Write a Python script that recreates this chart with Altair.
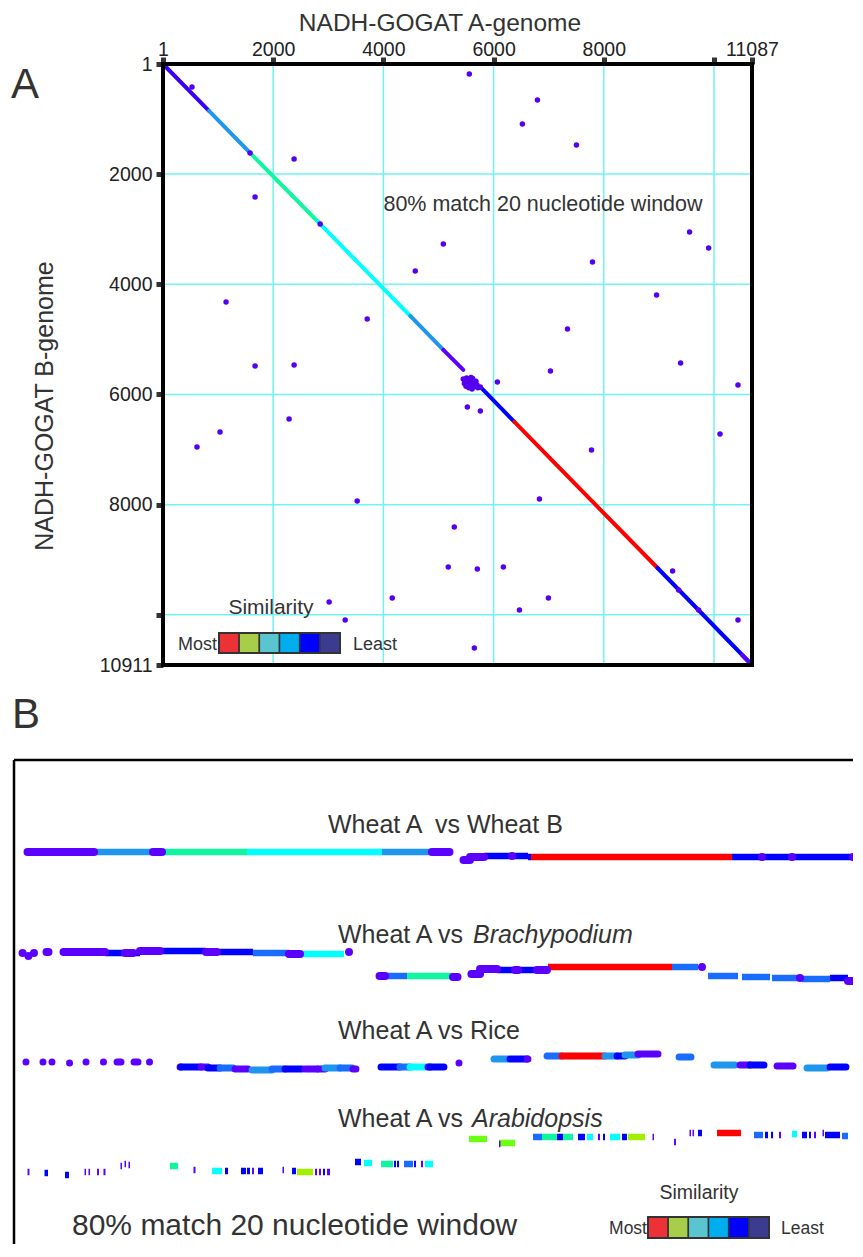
import altair as alt
import pandas as pd

FONT = "Liberation Sans, Arial, Helvetica, sans-serif"
INK = "#333333"
SHIFT = 6  # top padding of the chart, in pixels

# ---------------- colours ----------------
PAL = {"V": "#5B00FF", "I": "#3A00F5", "B": "#0000FF", "S": "#1E96EE",
       "Z": "#1A6CFF", "C": "#00FFFF", "G": "#10F5A0", "L": "#6CFF12",
       "Y": "#A0F000", "R": "#FF0000"}
legend_colors = ["#ED3237", "#A6CE48", "#5BC4D1", "#00AEEF", "#0000FF", "#3B3C8F"]

# ---------------- panel A : dot plot ----------------
a_len = 11087
b_len = 10911
x_ticks = [1, 2000, 4000, 6000, 8000, 10000, 11087]
y_ticks = [1, 2000, 4000, 6000, 8000, 10000, 10911]
grid_vals = [2000, 4000, 6000, 8000, 10000]

diag_a_start = [1, 836, 1581, 2816, 4488, 5088, 5760, 6378, 8976, 10801]
diag_a_end = [836, 1581, 2816, 4488, 5088, 5451, 6378, 8976, 11087, 11087]
diag_b_start = [1, 853, 1616, 2868, 4575, 5192, 5864, 6499, 9150, 10730]
diag_b_end = [853, 1616, 2868, 4575, 5192, 5555, 6499, 9150, 10911, 10911]
diag_col = ["I", "S", "G", "C", "S", "V", "B", "R", "B", "V"]

diag_dot_a = [1581, 5760, 9358, 9721]
diag_dot_b = [1616, 5864, 9550, 9913]

cluster_a = [5450, 5480, 5510, 5530, 5560, 5580, 5600, 5620, 5640, 5660, 5680,
             5700, 5720, 5500, 5550, 5610, 5470, 5590]
cluster_b = [5720, 5760, 5700, 5790, 5740, 5830, 5770, 5710, 5800, 5860, 5760,
             5830, 5880, 5850, 5880, 5900, 5800, 5690]

dots_a = [527, 5560, 6796, 6523, 7504, 2380, 1672, 2853, 5088, 4579, 9557, 9903,
          7795, 1145, 3707, 8958, 7341, 7032, 9394, 6069, 1672, 2380, 5524, 5760,
          7777, 10172, 10686, 618, 1036, 2289, 3525, 6832, 5287, 5178, 5705, 6178,
          9249, 3016, 3307, 4161, 6469, 6995, 5651, 10686]
dots_b = [418, 182, 654, 1089, 1471, 1725, 2415, 2904, 3268, 3758, 3050, 3341,
          3595, 4321, 4630, 4194, 4811, 5574, 5428, 5773, 5483, 5465, 6227, 6300,
          7008, 6717, 5828, 6953, 6681, 6445, 7934, 7897, 8406, 9132, 9168, 9132,
          9205, 9767, 10094, 9695, 9913, 9695, 10603, 10094]

# ---------------- panel B : alignment tracks ----------------
# (start, end, vertical offset, colour) along the Wheat A sequence (0..11087)
track_wheatB = [
    (84, 940, 92, "V"), (940, 1700, 92, "S"), (1700, 1816, 92, "V"), (1816, 2910, 92, "G"),
    (2910, 4649, 92, "C"), (4649, 5292, 92, "S"), (5292, 5518, 92, "V"),
    (5698, 5782, 100, "V"), (5782, 5962, 97, "V"), (5962, 6529, 96, "B"), (6323, 6323, 96, "V"),
    (6529, 6567, 97, "B"), (6567, 9156, 97, "R"), (9156, 11087, 97, "B"),
    (9542, 9542, 97, "V"), (9928, 9928, 97, "V"), (10714, 10714, 97, "V")]

track_brachy = [
    (20, 20, 193, "V"), (96, 96, 196, "V"), (167, 167, 193, "V"), (328, 354, 192, "V"),
    (547, 1082, 192, "V"), (1082, 1339, 193, "B"), (1339, 1442, 193, "V"), (1442, 1532, 193, "B"),
    (1532, 1790, 191, "V"), (1816, 2382, 191, "B"), (2382, 2524, 192, "V"), (2563, 2987, 192, "B"),
    (2987, 3451, 193, "Z"), (3451, 3593, 194, "V"), (3593, 4159, 194, "C"), (4224, 4224, 192, "V"),
    (4617, 4687, 216, "V"), (4687, 4971, 216, "Z"), (4971, 5563, 216, "G"), (5563, 5621, 217, "V"),
    (5800, 5911, 214, "V"), (5911, 6130, 209, "V"), (6130, 6361, 210, "B"), (6361, 6400, 210, "V"),
    (6400, 6645, 210, "B"), (6645, 6773, 210, "V"), (6786, 8383, 207, "R"), (8383, 8718, 207, "Z"),
    (8769, 8769, 207, "V"), (8847, 9233, 216, "Z"), (9284, 9645, 217, "Z"), (9671, 10005, 218, "Z"),
    (10031, 10031, 218, "V"), (10057, 10418, 219, "Z"), (10418, 10649, 218, "B"),
    (10649, 10875, 221, "V")]

track_rice = [
    (64, 64, 302, "V"), (283, 283, 302, "V"), (399, 399, 302, "V"), (625, 625, 303, "V"),
    (837, 837, 302, "V"), (1062, 1062, 302, "V"), (1237, 1287, 302, "V"), (1456, 1506, 302, "V"),
    (1655, 1655, 302, "V"),
    (2048, 2060, 307, "V"), (2060, 2318, 307, "B"), (2318, 2408, 307, "V"), (2408, 2563, 308, "B"),
    (2563, 2730, 308, "Z"), (2756, 2923, 309, "V"), (2975, 3232, 310, "S"), (3232, 3400, 309, "Z"),
    (3400, 3618, 309, "B"), (3657, 3812, 309, "V"), (3824, 3915, 309, "V"), (3915, 4108, 308, "S"),
    (4108, 4262, 308, "Z"), (4275, 4313, 309, "V"),
    (4636, 4880, 307, "B"), (4880, 5009, 307, "Z"), (5009, 5241, 307, "C"), (5241, 5267, 307, "V"),
    (5267, 5446, 307, "B"), (5640, 5640, 303, "V"),
    (6091, 6271, 299, "S"), (6297, 6516, 299, "B"), (6516, 6528, 299, "V"),
    (6774, 6966, 296, "Z"), (6966, 7520, 296, "R"), (7520, 7675, 296, "S"), (7675, 7778, 296, "B"),
    (7778, 7945, 295, "S"), (7945, 8202, 294, "V"),
    (8474, 8627, 297, "Z"), (8924, 9194, 305, "S"), (9259, 9387, 305, "V"), (9387, 9567, 305, "B"),
    (9736, 9941, 306, "V"), (10122, 10379, 308, "S"), (10418, 10623, 307, "B"),
    (10830, 11009, 308, "V")]

track_arabid = [
    (84, 109, 412, "V"), (303, 348, 413, "B"), (567, 618, 415, "B"), (818, 837, 412, "V"),
    (869, 889, 412, "V"), (979, 1004, 412, "V"), (1062, 1088, 412, "V"), (1281, 1301, 406, "V"),
    (1333, 1352, 404, "V"), (1384, 1404, 405, "V"), (1919, 2022, 406, "G"), (2221, 2247, 410, "V"),
    (2460, 2588, 411, "C"), (2627, 2666, 411, "B"), (2833, 2897, 411, "B"), (2910, 2949, 411, "B"),
    (2975, 3000, 411, "V"), (3052, 3116, 411, "B"), (3367, 3387, 410, "V"), (3490, 3541, 411, "B"),
    (3554, 3760, 412, "Y"), (3786, 3812, 412, "V"), (3837, 3863, 412, "V"), (3889, 3915, 412, "B"),
    (3940, 3979, 412, "V"),
    (4301, 4378, 402, "B"), (4417, 4520, 403, "C"), (4636, 4790, 404, "G"), (4803, 4829, 404, "B"),
    (4842, 4868, 404, "B"), (4932, 5048, 404, "Z"), (5061, 5086, 404, "B"), (5151, 5177, 404, "V"),
    (5202, 5305, 404, "C"),
    (5769, 6001, 379, "L"), (6155, 6361, 383, "L"), (6155, 6174, 384, "V"),
    (6593, 6709, 377, "Z"), (6709, 6902, 377, "G"), (6902, 6979, 377, "B"), (6979, 7108, 377, "G"),
    (7172, 7263, 377, "B"), (7288, 7366, 377, "C"), (7430, 7456, 377, "V"), (7494, 7520, 377, "B"),
    (7585, 7713, 377, "C"), (7739, 7803, 377, "B"), (7816, 8035, 377, "Y"), (8132, 8151, 377, "V"),
    (8409, 8434, 382, "V"), (8608, 8628, 373, "V"), (8647, 8666, 373, "V"), (8718, 8769, 373, "B"),
    (8962, 9271, 373, "R"), (9439, 9555, 375, "Z"), (9580, 9619, 375, "B"), (9658, 9684, 375, "B"),
    (9761, 9787, 375, "V"), (9928, 9993, 374, "C"), (10057, 10121, 375, "B"), (10147, 10173, 375, "B"),
    (10211, 10237, 375, "V"), (10321, 10340, 373, "V"), (10353, 10546, 375, "B"),
    (10572, 10649, 376, "Z"), (10797, 10817, 376, "V")]

# box around panel B (left and top edges)
box_x0, box_x1 = -90, 11600
box_y0, box_y1 = 0, 520

# ---------------- scales / axes ----------------
xsA = alt.Scale(domain=[1, 10000, a_len], range=[155, 706, 744], nice=False, zero=False)
ysA = alt.Scale(domain=[1, b_len], range=[56 - SHIFT, 657 - SHIFT], nice=False, zero=False)
xAxis = alt.Axis(orient="top", values=x_ticks, format="d",
                 labelExpr="datum.value == 10000 ? '' : datum.label",
                 offset=-(56 - SHIFT), domain=False, grid=False, tickSize=7, tickWidth=5,
                 tickColor=INK, labelFont=FONT, labelFontSize=19.5, labelColor="#222",
                 labelPadding=2, labelBaseline="alphabetic", labelFlush=False,
                 labelOverlap=False, title=None)
yAxis = alt.Axis(orient="left", values=y_ticks, format="d",
                 labelExpr="datum.value == 10000 ? '' : datum.label",
                 offset=-155, domain=False, grid=False, tickSize=7, tickWidth=5,
                 tickColor=INK, labelFont=FONT, labelFontSize=19.5, labelColor="#222",
                 labelPadding=4, labelFlush=False, labelOverlap=False, title=None)


def XA(f):
    return alt.X(f, type="quantitative", scale=xsA, axis=xAxis)


def YA(f):
    return alt.Y(f, type="quantitative", scale=ysA, axis=yAxis)


xsB = alt.Scale(domain=[0, a_len], range=[13, 874], nice=False, zero=False)
ysB = alt.Scale(domain=[0, 500], range=[752 - SHIFT, 1252 - SHIFT], nice=False, zero=False)


def XB(f):
    return alt.X(f, type="quantitative", scale=xsB, axis=None)


def YB(f):
    return alt.Y(f, type="quantitative", scale=ysB, axis=None)


# ---------------- panel A layers ----------------
vgrid = pd.DataFrame({"a": grid_vals, "b": [1] * len(grid_vals), "b2": [b_len] * len(grid_vals)})
hgrid = pd.DataFrame({"b": grid_vals, "a": [1] * len(grid_vals), "a2": [a_len] * len(grid_vals)})
diag = pd.DataFrame({"a": diag_a_start, "a2": diag_a_end, "b": diag_b_start, "b2": diag_b_end,
                     "col": [PAL[c] for c in diag_col]})
frame = pd.DataFrame({"a": [1], "a2": [a_len], "b": [1], "b2": [b_len]})
pts = pd.DataFrame({"a": dots_a + cluster_a + diag_dot_a, "b": dots_b + cluster_b + diag_dot_b})

gridc = "#6FF3F3"
l_vgrid = alt.Chart(vgrid).mark_rule(color=gridc, strokeWidth=1.5).encode(
    x=XA("a"), y=YA("b"), y2="b2")
l_hgrid = alt.Chart(hgrid).mark_rule(color=gridc, strokeWidth=1.5).encode(
    x=XA("a"), x2="a2", y=YA("b"))
l_diag = alt.Chart(diag).mark_rule(strokeWidth=4, strokeCap="round").encode(
    x=XA("a"), x2="a2", y=YA("b"), y2="b2", color=alt.Color("col:N", scale=None))
l_pts = alt.Chart(pts).mark_circle(size=30, opacity=1, color="#5500F0").encode(
    x=XA("a"), y=YA("b"))
l_frame = alt.Chart(frame).mark_rect(fillOpacity=0, stroke="black", strokeWidth=4).encode(
    x=XA("a"), x2="a2", y=YA("b"), y2="b2")

panelA = alt.layer(l_vgrid, l_hgrid, l_diag, l_pts, l_frame)

# ---------------- panel B layers ----------------
def track_df(rows, kind):
    return pd.DataFrame({"s": [r[0] for r in rows], "e": [r[1] for r in rows],
                         "y": [r[2] for r in rows], "key": [r[3] for r in rows],
                         "col": [PAL[r[3]] for r in rows], "kind": kind})


wheat = pd.concat([track_df(track_wheatB, "w"), track_df(track_brachy, "w")], ignore_index=True)
rice = track_df(track_rice, "r")
arab = track_df(track_arabid, "a")

l_wc = alt.Chart(wheat).transform_filter("datum.key != 'V'").mark_rule(
    strokeWidth=6.5, strokeCap="butt").encode(
    x=XB("s"), x2="e", y=YB("y"), color=alt.Color("col:N", scale=None))
l_wv = alt.Chart(wheat).transform_filter("datum.key == 'V'").mark_rule(
    strokeWidth=8, strokeCap="round").encode(
    x=XB("s"), x2="e", y=YB("y"), color=alt.Color("col:N", scale=None))
l_rice = alt.Chart(rice).mark_rule(strokeWidth=7, strokeCap="round").encode(
    x=XB("s"), x2="e", y=YB("y"), color=alt.Color("col:N", scale=None))
l_arab = alt.Chart(arab).mark_rule(strokeWidth=6.5, strokeCap="butt").encode(
    x=XB("s"), x2="e", y=YB("y"), color=alt.Color("col:N", scale=None))

boxL = pd.DataFrame({"s": [box_x0], "y": [box_y0], "y2": [box_y1]})
boxT = pd.DataFrame({"s": [box_x0], "e": [box_x1], "y": [box_y0]})
l_boxL = alt.Chart(boxL).mark_rule(color="black", strokeWidth=2.5).encode(
    x=XB("s"), y=YB("y"), y2="y2")
l_boxT = alt.Chart(boxT).mark_rule(color="black", strokeWidth=2.5).encode(
    x=XB("s"), x2="e", y=YB("y"))

panelB = alt.layer(l_boxL, l_boxT, l_wc, l_wv, l_rice, l_arab)

# ---------------- texts & legends ----------------
one = pd.DataFrame({"k": [0]})


def txt(s, x, y, size, align="left", style="normal", angle=0, baseline="alphabetic"):
    return alt.Chart(one).mark_text(text=s, font=FONT, fontSize=size, align=align,
                                    baseline=baseline, fontStyle=style, angle=angle,
                                    color=INK).encode(x=alt.value(x), y=alt.value(y - SHIFT))


def legend(x0, y0, w, h):
    y0 = y0 - SHIFT
    out = []
    for i, c in enumerate(legend_colors):
        out.append(alt.Chart(one).mark_rect(color=c, stroke=INK, strokeWidth=1.5).encode(
            x=alt.value(x0 + i * w), x2=alt.value(x0 + (i + 1) * w),
            y=alt.value(y0), y2=alt.value(y0 + h)))
    out.append(alt.Chart(one).mark_rect(fillOpacity=0, stroke=INK, strokeWidth=2).encode(
        x=alt.value(x0), x2=alt.value(x0 + 6 * w), y=alt.value(y0), y2=alt.value(y0 + h)))
    return out


texts = [
    txt("A", 17, 90, 42, align="center"),
    txt("B", 18, 720, 42, align="center"),
    txt("NADH-GOGAT A-genome", 432, 22.5, 24.5, align="center"),
    txt("NADH-GOGAT B-genome", 37, 398, 25, align="center", angle=270, baseline="middle"),
    txt("80% match 20 nucleotide window", 535, 203, 21.5, align="center"),
    txt("Similarity", 263, 606, 21, align="center"),
    txt("Most", 209, 642, 18, align="right"),
    txt("Least", 345, 642, 18, align="left"),
    txt("Wheat A \u00a0vs Wheat B", 320, 825, 25),
    txt("Wheat A vs ", 330, 935, 25),
    txt("Brachypodium", 465, 935, 25, style="italic"),
    txt("Wheat A vs Rice", 330, 1031, 25),
    txt("Wheat A vs ", 330, 1119, 25),
    txt("Arabidopsis", 464, 1119, 25, style="italic"),
    txt("80% match 20 nucleotide window", 64, 1227, 30),
    txt("Similarity", 691, 1191, 19.5, align="center"),
    txt("Most", 639, 1226, 17.5, align="right"),
    txt("Least", 773, 1226, 17.5, align="left"),
]
texts += legend(211, 625, 20.17, 20)
texts += legend(640, 1209, 20.17, 21)

annot = alt.layer(*texts)

chart = alt.layer(panelA, panelB, annot).resolve_scale(
    x="independent", y="independent"
).properties(
    width=845, height=1236 - SHIFT, autosize=alt.AutoSizeParams(type="none"),
    padding={"top": SHIFT, "left": 0, "right": 0, "bottom": 0}
).configure_view(stroke=None)

chart.save("out.html", embed_options={"renderer": "svg", "actions": False})
